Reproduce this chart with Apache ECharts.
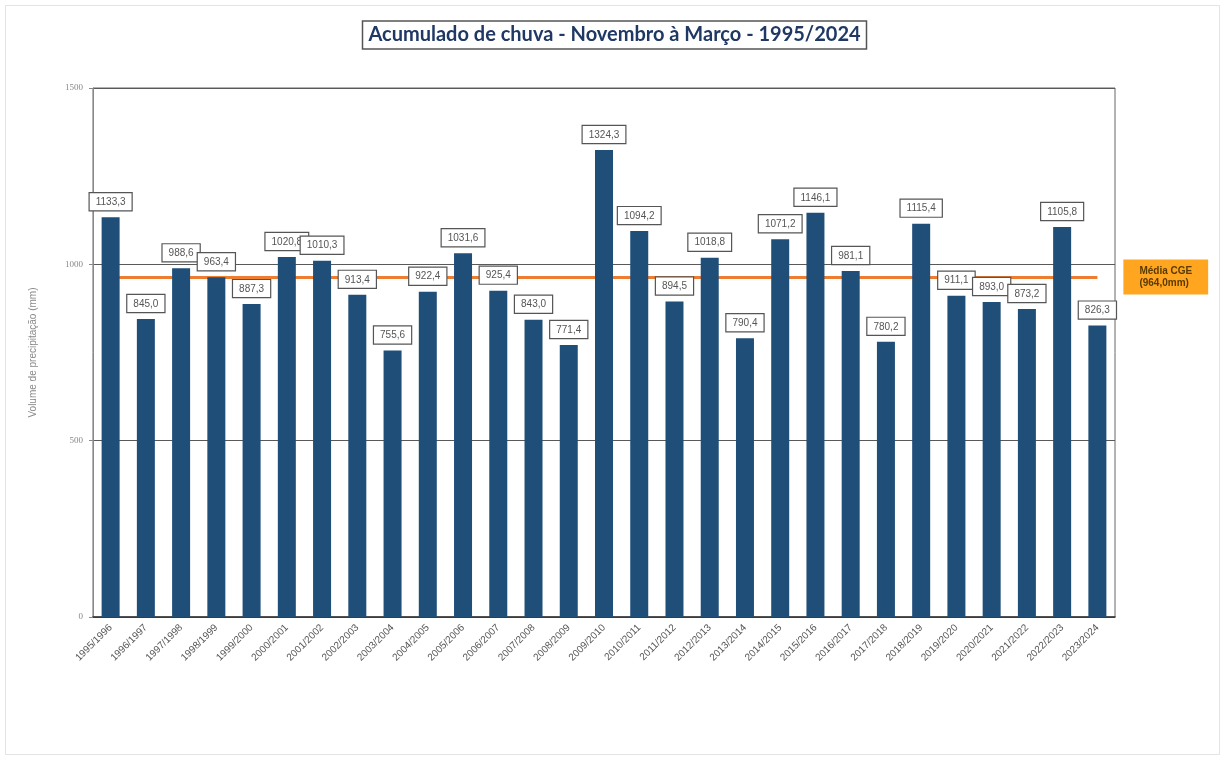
<!DOCTYPE html>
<html>
<head>
<meta charset="utf-8">
<script src="https://cdn.jsdelivr.net/npm/echarts@6/dist/echarts.min.js"></script>
<style>
html,body{margin:0;padding:0;background:#fff;}
#frame{position:absolute;left:5px;top:5px;width:1215px;height:750px;border:1px solid #e4e4e4;box-sizing:border-box;}
#chart{position:absolute;left:0;top:0;width:1229px;height:763px;}
</style>
</head>
<body>
<div id="frame"></div>
<div id="chart"></div>
<script>
const categories = ["1995/1996","1996/1997","1997/1998","1998/1999","1999/2000","2000/2001","2001/2002","2002/2003","2003/2004","2004/2005","2005/2006","2006/2007","2007/2008","2008/2009","2009/2010","2010/2011","2011/2012","2012/2013","2013/2014","2014/2015","2015/2016","2016/2017","2017/2018","2018/2019","2019/2020","2020/2021","2021/2022","2022/2023","2023/2024"];
const rainfall = [1133.3,845.0,988.6,963.4,887.3,1020.8,1010.3,913.4,755.6,922.4,1031.6,925.4,843.0,771.4,1324.3,1094.2,894.5,1018.8,790.4,1071.2,1146.1,981.1,780.2,1115.4,911.1,893.0,873.2,1105.8,826.3];
const mediaCGE = 964.0;
const mediaLabel = "Média CGE\n(964,0mm)";
const yTicks = [0, 500, 1000, 1500];

const chart = echarts.init(document.getElementById('chart'), null, {renderer:'canvas'});
const fmt = v => v.toFixed(1).replace('.', ',');
chart.setOption({
  animation:false,
  backgroundColor:'transparent',
  title:{
    text:'Acumulado de chuva - Novembro à Março - 1995/2024',
    left:'center', top:21,
    padding:[4,6,4,6],
    borderColor:'#555', borderWidth:1.5,
    textStyle:{fontFamily:'Lato', fontSize:20, fontWeight:'bold', color:'#1F3864'}
  },
  grid:{left:93, right:114, top:88, bottom:146, show:true, borderColor:'#666', borderWidth:1},
  xAxis:{
    type:'category', data:categories,
    axisLine:{lineStyle:{color:'#333', width:1.5}},
    axisTick:{show:false},
    axisLabel:{rotate:45, fontSize:10, color:'#555', fontFamily:'Liberation Sans', interval:0, margin:9}
  },
  yAxis:{
    type:'value', min:yTicks[0], max:yTicks[yTicks.length-1], interval:500,
    name:'Volume de precipitação (mm)', nameLocation:'middle', nameGap:55,
    nameTextStyle:{fontSize:10, color:'#888', fontFamily:'Liberation Sans'},
    axisLine:{show:true, lineStyle:{color:'#888'}},
    axisTick:{show:true, length:4, lineStyle:{color:'#888'}},
    axisLabel:{fontSize:9, color:'#888', fontFamily:'Liberation Serif', margin:10, formatter:v => String(v)},
    splitLine:{show:true, lineStyle:{color:'#595959', width:1.2}}
  },
  series:[{
    type:'bar', data:rainfall, barWidth:18,
    itemStyle:{color:'#1F4E79'},
    label:{
      show:true, position:'top', distance:7,
      formatter:p => fmt(p.value),
      fontSize:10, color:'#555', fontFamily:'Liberation Sans',
      backgroundColor:'#fff', borderColor:'#555', borderWidth:1.2,
      padding:[4,6,3,6]
    },
    z:2,
    markLine:{
      silent:true, symbol:'none', z:1,
      lineStyle:{color:'#ED7D31', width:3, type:'solid'},
      label:{
        show:true, position:'end', distance:26,
        formatter:mediaLabel,
        backgroundColor:'#FFA51F', color:'#5a3a00',
        fontSize:10, fontWeight:'bold', fontFamily:'Liberation Sans',
        padding:[6,16,5,16], lineHeight:12
      },
      data:[[{coord:[categories[0], mediaCGE]},{coord:[categories[categories.length-1], mediaCGE]}]]
    }
  }]
});
</script>
</body>
</html>
